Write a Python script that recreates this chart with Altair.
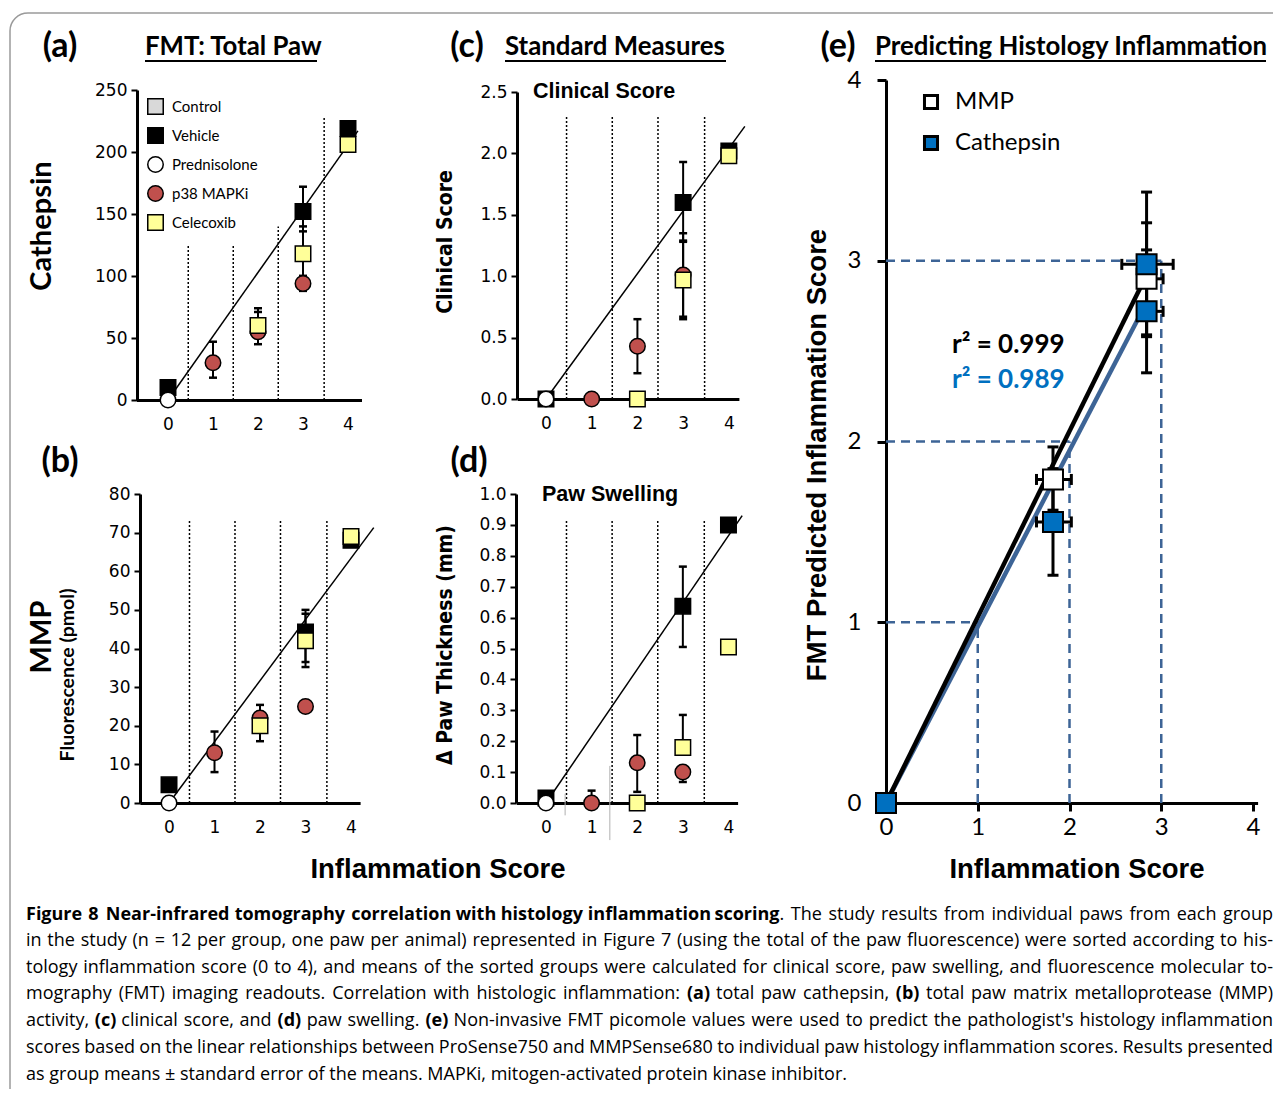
import altair as alt
import pandas as pd

W, H, M = 1265, 1081, 8

# ---------------- data ----------------
groups = ["Control", "Vehicle", "Prednisolone", "p38 MAPKi", "Celecoxib"]
group_fills = ["#d9d9d9", "#000000", "#ffffff", "#c0504d", "#ffff99"]
group_shapes = ["square", "square", "circle", "circle", "square"]

# point order = drawing order
pt_group = ["Vehicle", "Vehicle", "Vehicle", "p38 MAPKi", "p38 MAPKi", "p38 MAPKi",
            "Celecoxib", "Celecoxib", "Celecoxib", "Prednisolone"]
pt_score = [0, 3, 4, 1, 2, 3, 2, 3, 4, 0]

a_value = [10, 152, 219, 30, 55, 94, 60, 118, 206, 0]            # Cathepsin
b_value = [4.7, 44.3, 68, 13, 22, 25, 20, 42, 69, 0]             # MMP (pmol)
c_value = [0.0, 1.60, 2.02, 0.0, 0.43, 1.01, 0.0, 0.97, 1.98, 0.0]  # clinical score
d_value = [0.016, 0.637, 0.90, 0.0, 0.13, 0.10, 0.0, 0.18, 0.505, 0.0]  # paw swelling

a_err_score = [1, 2, 2, 3, 3, 3]
a_err_lo = [18, 45, 50, 136, 100, 88]
a_err_hi = [47, 71, 74, 172, 140, 100]

b_err_score = [1, 2, 2, 3, 3]
b_err_lo = [8, 19, 16, 36.5, 35.2]
b_err_hi = [18.5, 25.4, 22, 50, 49]

c_err_score = [2, 3, 3, 3]
c_err_lo = [0.21, 1.28, 0.65, 0.67]
c_err_hi = [0.65, 1.93, 1.29, 1.35]

d_err_score = [1, 2, 3, 3, 3]
d_err_lo = [0.0, 0.036, 0.505, 0.18, 0.068]
d_err_hi = [0.04, 0.22, 0.765, 0.285, 0.10]

d_stray_x = [0.42, 1.40]
d_stray_lo = [-0.04, -0.12]
d_stray_hi = [0.03, 0.12]

fit_a_x, fit_a_y = [0, 4.22], [0, 217]
fit_b_x, fit_b_y = [0, 4.5], [0, 71.3]
fit_c_x, fit_c_y = [0, 4.35], [0, 2.22]
fit_d_x, fit_d_y = [0, 4.3], [0, 0.93]

div_x = [0.45, 1.45, 2.45, 3.47]
div_base = [0, 0, 0, 0]
div_top_a = [125, 125, 140, 229]
div_top_b = [73, 73, 73, 73]
div_top_c = [2.31, 2.31, 2.31, 2.31]
div_top_d = [0.915, 0.915, 0.915, 0.915]

# panel (e)
e_series = ["MMP", "Cathepsin"]
e_fills = ["#ffffff", "#0070c0"]
e_mmp_x = [0, 1.82, 2.84]
e_mmp_y = [0, 1.79, 2.90]
e_mmp_ylo = [0, 1.62, 2.59]
e_mmp_yhi = [0, 1.97, 3.21]
e_mmp_xlo = [0, 1.64, 2.74]
e_mmp_xhi = [0, 2.02, 3.02]
e_cat_x = [0, 1.82, 2.84, 2.84]
e_cat_y = [0, 1.555, 2.98, 2.72]
e_cat_ylo = [0, 1.26, 2.58, 2.38]
e_cat_yhi = [0, 1.85, 3.38, 3.06]
e_cat_xlo = [0, 1.64, 2.57, 2.75]
e_cat_xhi = [0, 2.02, 3.13, 3.02]
e_fit_mmp_x, e_fit_mmp_y = [0, 2.79], [0, 2.87]
e_fit_cat_x, e_fit_cat_y = [0, 2.80], [0, 2.73]
e_guides = [1, 2, 3]
e_guides_base = [0, 0, 0]

caption_lines = [
    "**Figure 8 Near-infrared tomography correlation with histology inflammation scoring**. The study "
    "results from individual paws from each group",
    "in the study (n = 12 per group, one paw per animal) represented in Figure 7 (using the total of the "
    "paw fluorescence) were sorted according to his-",
    "tology inflammation score (0 to 4), and means of the sorted groups were calculated for clinical score, "
    "paw swelling, and fluorescence molecular to-",
    "mography (FMT) imaging readouts. Correlation with histologic inflammation: **(a)** total paw cathepsin, "
    "**(b)** total paw matrix metalloprotease (MMP)",
    "activity, **(c)** clinical score, and **(d)** paw swelling. **(e)** Non-invasive FMT picomole values "
    "were used to predict the pathologist's histology inflammation",
    "scores based on the linear relationships between ProSense750 and MMPSense680 to individual paw "
    "histology inflammation scores. Results presented",
    "as group means \u00b1 standard error of the means. MAPKi, mitogen-activated protein kinase inhibitor.",
]

CAL = "Lato"
ARIAL = "Liberation Sans"
NARROW = "'Liberation Sans Narrow', 'DejaVu Sans Condensed', 'Liberation Sans'"
TICKF = "DejaVu Sans"
ONE = pd.DataFrame({"k": [0]})

layers = []


def scale(dom, rng):
    return alt.Scale(domain=dom, range=[rng[0] - M, rng[1] - M], nice=False, zero=False)


def yaxis(xpage, values, fmt, font=TICKF, size=17, tsize=6, twidth=2, pad=4):
    return alt.Axis(orient="left", offset=-(xpage - M), values=values, format=fmt, title=None,
                    grid=False, domainWidth=3, domainColor="black", ticks=True, tickColor="black",
                    tickWidth=twidth, tickSize=tsize, labelFont=font, labelFontSize=size,
                    labelColor="black", labelPadding=pad, labelFlush=False, labelOverlap=False)


def xaxis(ypage, font=TICKF, size=17, ticks=False, tsize=0, twidth=2, pad=16, values=(0, 1, 2, 3, 4)):
    return alt.Axis(orient="bottom", offset=(ypage - M) - H, values=list(values), format="d", title=None,
                    grid=False, domainWidth=3, domainColor="black", ticks=ticks, tickColor="black",
                    tickWidth=twidth, tickSize=tsize, labelFont=font, labelFontSize=size,
                    labelColor="black", labelPadding=pad, labelFlush=False, labelOverlap=False)


def std_panel(xs, ys, xax, yax, values, e_score, e_lo, e_hi, fx, fy, dtop, legend=None, extra=None):
    pts = pd.DataFrame({"x": pt_score, "y": values, "group": pt_group})
    errs = pd.DataFrame({"x": e_score, "lo": e_lo, "hi": e_hi})
    fit = pd.DataFrame({"x": fx, "y": fy})
    dots = pd.DataFrame({"x": div_x, "base": div_base, "top": dtop})
    X = lambda f, ax=None: alt.X(f, type="quantitative", scale=xs, axis=ax)
    Y = lambda f, ax=None: alt.Y(f, type="quantitative", scale=ys, axis=ax)

    dl = alt.Chart(dots).mark_rule(color="black", strokeWidth=1.5, strokeDash=[2, 2]).encode(
        x=X("x"), y=Y("base"), y2="top:Q")
    line = alt.Chart(fit).mark_line(color="black", strokeWidth=1.5).encode(
        x=X("x", xax), y=Y("y", yax))
    er = alt.Chart(errs).mark_rule(color="black", strokeWidth=2).encode(x=X("x"), y=Y("lo"), y2="hi:Q")
    c1 = alt.Chart(errs).mark_tick(orient="horizontal", color="black", size=8, thickness=2.5,
                                   opacity=1).encode(x=X("x"), y=Y("lo"))
    c2 = alt.Chart(errs).mark_tick(orient="horizontal", color="black", size=8, thickness=2.5,
                                   opacity=1).encode(x=X("x"), y=Y("hi"))
    fs = alt.Scale(domain=groups, range=group_fills)
    ss = alt.Scale(domain=groups, range=group_shapes)
    ks = alt.Scale(domain=groups, range=["#000000"] * len(groups))
    p = alt.Chart(pts).mark_point(filled=True, size=240, strokeWidth=1.5, opacity=1).encode(
        x=X("x"), y=Y("y"),
        fill=alt.Fill("group:N", scale=fs, legend=legend),
        shape=alt.Shape("group:N", scale=ss, legend=legend),
        stroke=alt.Stroke("group:N", scale=ks, legend=legend))
    out = [dl, line]
    if extra is not None:
        out.append(extra)
    out += [er, c1, c2, p]
    return out


# ---------- panel a ----------
xa = scale([-0.7, 4.3], [136.5, 361.5])
ya = scale([0, 250], [400, 90])
leg_a = alt.Legend(orient="none", legendX=139, legendY=90, title=None, labelFont=CAL, labelFontSize=15,
                   labelColor="black", symbolSize=240, symbolStrokeWidth=1.5,
                   rowPadding=6, padding=0, labelOffset=8)
layers += std_panel(xa, ya, xaxis(400), yaxis(137, [0, 50, 100, 150, 200, 250], "d"), a_value,
                    a_err_score, a_err_lo, a_err_hi, fit_a_x, fit_a_y, div_top_a, legend=leg_a)

# ---------- panel b ----------
xb = scale([-0.64, 4.2], [139.9, 360.1])
yb = scale([0, 80], [803, 494])
layers += std_panel(xb, yb, xaxis(803), yaxis(140, list(range(0, 81, 10)), "d"), b_value,
                    b_err_score, b_err_lo, b_err_hi, fit_b_x, fit_b_y, div_top_b)

# ---------- panel c ----------
xc = scale([-0.63, 4.22], [517.2, 738.9])
yc = scale([0, 2.5], [399, 92])
layers += std_panel(xc, yc, xaxis(399), yaxis(517, [0, 0.5, 1.0, 1.5, 2.0, 2.5], ".1f"), c_value,
                    c_err_score, c_err_lo, c_err_hi, fit_c_x, fit_c_y, div_top_c)

# ---------- panel d ----------
xd = scale([-0.65, 4.2], [516.3, 737.6])
yd = scale([0, 1.0], [803, 494])
stray = alt.Chart(pd.DataFrame({"x": d_stray_x, "lo": d_stray_lo, "hi": d_stray_hi})).mark_rule(
    color="#b0b0b0", strokeWidth=1).encode(
    x=alt.X("x:Q", scale=xd, axis=None), y=alt.Y("lo:Q", scale=yd, axis=None), y2="hi:Q")
layers += std_panel(xd, yd, xaxis(803), yaxis(516, [round(i * 0.1, 1) for i in range(11)], ".1f"), d_value,
                    d_err_score, d_err_lo, d_err_hi, fit_d_x, fit_d_y, div_top_d, extra=stray)

# ---------- panel e ----------
xe = scale([0, 4.05], [886, 1257.6])
ye = scale([0, 4], [803, 80])
GUIDE = "#3d6496"
XE = lambda f, ax=None: alt.X(f, type="quantitative", scale=xe, axis=ax)
YE = lambda f, ax=None: alt.Y(f, type="quantitative", scale=ye, axis=ax)
gdf = pd.DataFrame({"lvl": e_guides, "base": e_guides_base})
gh = alt.Chart(gdf).mark_rule(color=GUIDE, strokeWidth=2.5, strokeDash=[9, 6]).encode(
    x=XE("base"), x2="lvl:Q", y=YE("lvl"))
gv = alt.Chart(gdf).mark_rule(color=GUIDE, strokeWidth=2.5, strokeDash=[9, 6]).encode(
    y=YE("base"), y2="lvl:Q", x=XE("lvl"))
fit_cat = alt.Chart(pd.DataFrame({"x": e_fit_cat_x, "y": e_fit_cat_y})).mark_line(
    color=GUIDE, strokeWidth=4.5).encode(
    x=XE("x", xaxis(803, font=CAL, size=24, ticks=True, tsize=8, twidth=3, pad=4)),
    y=YE("y", yaxis(886, [0, 1, 2, 3, 4], "d", font=CAL, size=24, tsize=9, twidth=3, pad=16)))
fit_mmp = alt.Chart(pd.DataFrame({"x": e_fit_mmp_x, "y": e_fit_mmp_y})).mark_line(
    color="black", strokeWidth=4.5).encode(x=XE("x"), y=YE("y"))

e_pts = pd.DataFrame({
    "x": e_mmp_x + e_cat_x,
    "y": e_mmp_y + e_cat_y,
    "ylo": e_mmp_ylo + e_cat_ylo, "yhi": e_mmp_yhi + e_cat_yhi,
    "xlo": e_mmp_xlo + e_cat_xlo, "xhi": e_mmp_xhi + e_cat_xhi,
    "series": ["MMP"] * len(e_mmp_x) + ["Cathepsin"] * len(e_cat_x),
})
ev = alt.Chart(e_pts).mark_rule(color="black", strokeWidth=3).encode(x=XE("x"), y=YE("ylo"), y2="yhi:Q")
eh = alt.Chart(e_pts).mark_rule(color="black", strokeWidth=3).encode(y=YE("y"), x=XE("xlo"), x2="xhi:Q")
evc1 = alt.Chart(e_pts).mark_tick(orient="horizontal", color="black", size=11, thickness=3, opacity=1).encode(
    x=XE("x"), y=YE("ylo"))
evc2 = alt.Chart(e_pts).mark_tick(orient="horizontal", color="black", size=11, thickness=3, opacity=1).encode(
    x=XE("x"), y=YE("yhi"))
ehc1 = alt.Chart(e_pts).mark_tick(orient="vertical", color="black", size=11, thickness=3, opacity=1).encode(
    x=XE("xlo"), y=YE("y"))
ehc2 = alt.Chart(e_pts).mark_tick(orient="vertical", color="black", size=11, thickness=3, opacity=1).encode(
    x=XE("xhi"), y=YE("y"))
leg_e = alt.Legend(orient="none", legendX=911, legendY=82, title=None, labelFont=CAL, labelFontSize=24,
                   labelColor="black", symbolSize=170, symbolStrokeColor="black", symbolStrokeWidth=3,
                   symbolType="square", rowPadding=15, padding=0, labelOffset=12)
ep = alt.Chart(e_pts).mark_point(filled=True, shape="square", size=400, stroke="black", strokeWidth=2,
                                 opacity=1).encode(
    x=XE("x"), y=YE("y"),
    fill=alt.Fill("series:N", scale=alt.Scale(domain=e_series, range=e_fills), legend=leg_e))
layers += [gh, gv, fit_cat, fit_mmp, ev, eh, evc1, evc2, ehc1, ehc2, ep]


# ---------- text ----------
def txt(x, y, s, font, size, weight="normal", align="left", angle=0, color="black", baseline="middle"):
    kw = dict(text=s, font=font, fontSize=size, fontWeight=weight, align=align, baseline=baseline,
              color=color)
    if angle:
        kw["angle"] = angle
    return alt.Chart(ONE).mark_text(**kw).encode(x=alt.value(x - M), y=alt.value(y - M))


def uline(x1, x2, y):
    return alt.Chart(ONE).mark_rule(color="black", strokeWidth=2).encode(
        x=alt.value(x1 - M), x2=alt.value(x2 - M), y=alt.value(y - M))


TS = 25.8
texts = [
    txt(60, 47, "(a)", CAL, 34, "bold", "center"),
    txt(145, 47, "FMT: Total Paw", CAL, TS, "bold"), uline(145, 317, 61),
    txt(467, 47, "(c)", CAL, 34, "bold", "center"),
    txt(505, 47, "Standard Measures", CAL, TS, "bold"), uline(505, 726, 61),
    txt(838, 47, "(e)", CAL, 34, "bold", "center"),
    txt(875, 47, "Predicting Histology Inflammation", CAL, TS, "bold"), uline(875, 1266, 61),
    txt(60, 462, "(b)", CAL, 34, "bold", "center"),
    txt(469, 462, "(d)", CAL, 34, "bold", "center"),
    txt(42, 226, "Cathepsin", CAL, 29, "bold", "center", 270),
    txt(42, 637, "MMP", CAL, 29, "bold", "center", 270),
    txt(68, 675, "Fluorescence (pmol)", CAL, 19.5, "bold", "center", 270),
    txt(446, 242, "Clinical Score", NARROW, 21, "bold", "center", 270),
    txt(446, 645, "\u0394 Paw Thickness (mm)", NARROW, 21, "bold", "center", 270),
    txt(818, 455, "FMT Predicted  Inflammation Score", ARIAL, 27.5, "bold", "center", 270),
    txt(533, 92, "Clinical Score", ARIAL, 21.5, "bold"),
    txt(542, 495, "Paw Swelling", ARIAL, 21.5, "bold"),
    txt(438, 870, "Inflammation Score", ARIAL, 27.5, "bold", "center"),
    txt(1077, 870, "Inflammation Score", ARIAL, 27.5, "bold", "center"),
    txt(952, 345, "r\u00b2 = 0.999", CAL, 26, "bold"),
    txt(952, 380, "r\u00b2 = 0.989", CAL, 26, "bold", color="#0070c0"),
]

# ---------- caption (justified, word by word) ----------
CAPF = "Open Sans"
CS = 18
CAP_L, CAP_R = 26, 1273
cap_y = [915, 941, 968, 994, 1021, 1048, 1075]
EM = {" ": 0.260, "'": 0.221, "(": 0.296, ")": 0.296, ",": 0.245, "-": 0.322, ".": 0.266, ":": 0.266,
      "=": 0.572, "\u00b1": 0.572,
      "A": 0.633, "B": 0.648, "C": 0.631, "D": 0.729, "E": 0.556, "F": 0.516, "G": 0.728, "H": 0.738,
      "I": 0.279, "J": 0.267, "K": 0.614, "L": 0.519, "M": 0.903, "N": 0.754, "O": 0.779, "P": 0.602,
      "Q": 0.779, "R": 0.618, "S": 0.549, "T": 0.553, "U": 0.728, "V": 0.595, "W": 0.926, "X": 0.577,
      "Y": 0.560, "Z": 0.571,
      "a": 0.556, "b": 0.613, "c": 0.480, "d": 0.613, "e": 0.565, "f": 0.329, "g": 0.542, "h": 0.613,
      "i": 0.253, "j": 0.253, "k": 0.525, "l": 0.253, "m": 0.930, "n": 0.613, "o": 0.599, "p": 0.613,
      "q": 0.613, "r": 0.408, "s": 0.477, "t": 0.353, "u": 0.613, "v": 0.501, "w": 0.778, "x": 0.524,
      "y": 0.502, "z": 0.477}


def est(s, bold):
    w = sum(EM.get(ch, 0.572) for ch in s) * CS
    return w * (1.07 if bold else 1.0)


def parse(line):
    words = [[]]
    for i, seg in enumerate(line.split("**")):
        bold = i % 2 == 1
        for j, piece in enumerate(seg.split(" ")):
            if j > 0:
                words.append([])
            if piece:
                words[-1].append((piece, bold))
    return [w for w in words if w]


for li, (yy, line) in enumerate(zip(cap_y, caption_lines)):
    if li == len(caption_lines) - 1:
        texts.append(txt(CAP_L, yy, line, CAPF, CS, "normal"))
        continue
    words = parse(line)
    widths = [sum(est(p, b) for p, b in w) for w in words]
    gap = (CAP_R - CAP_L - sum(widths)) / (len(words) - 1)
    xx = CAP_L
    for wi, (w, wd) in enumerate(zip(words, widths)):
        if wi == len(words) - 1 and len(w) == 1:
            texts.append(txt(CAP_R, yy, w[0][0], CAPF, CS, "bold" if w[0][1] else "normal", "right"))
        else:
            px = xx
            for p, b in w:
                texts.append(txt(px, yy, p, CAPF, CS, "bold" if b else "normal"))
                px += est(p, b)
        xx += wd + gap

frame = alt.Chart(ONE).mark_rect(fillOpacity=0, stroke="#9a9a9a", strokeWidth=1.5, cornerRadius=18).encode(
    x=alt.value(2), x2=alt.value(1400), y=alt.value(5), y2=alt.value(1300))

chart = alt.layer(frame, *layers, *texts).resolve_scale(
    x="independent", y="independent", fill="independent", shape="independent", stroke="independent"
).properties(width=W, height=H, autosize=alt.AutoSizeParams(type="none"), padding=0
).configure_view(stroke=None)

chart.save("out.html", embed_options={"renderer": "svg", "actions": False})
